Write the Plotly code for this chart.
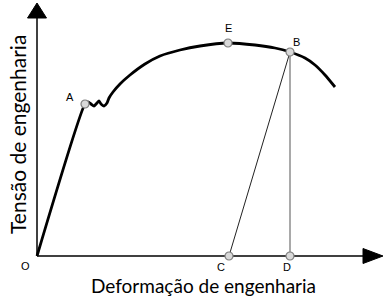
import plotly.graph_objects as go

# Curve (strain, stress) in arbitrary units
strain_curve = [0, 48, 51, 54, 57, 60, 62, 64, 67, 70, 72, 76, 83, 93, 108, 123, 143, 163, 191, 218, 238, 253, 268, 278, 288, 298]
stress_curve = [0, 152, 154, 152, 150, 153, 155, 152, 150, 153, 158, 164, 172, 181, 192, 200, 206, 210, 213, 211, 208, 204, 198, 191, 181, 169]

# Key points
pt_labels = ["A", "E", "B", "C", "D"]
pt_strain = [48, 191, 253, 192, 253]
pt_stress = [152, 213, 204, 0, 0]

# Axes extents
x_axis_end = 326
y_axis_end = 238
head_len_x, head_half_x = 20, 7.5
head_len_y, head_half_y = 15, 9.5

fig = go.Figure()

# axes lines
fig.add_trace(go.Scatter(x=[0, x_axis_end], y=[0, 0], mode="lines",
                         line=dict(color="black", width=1.5), hoverinfo="skip"))
fig.add_trace(go.Scatter(x=[0, 0], y=[0, y_axis_end], mode="lines",
                         line=dict(color="black", width=1.5), hoverinfo="skip"))
# arrow heads
fig.add_trace(go.Scatter(x=[x_axis_end, x_axis_end, x_axis_end + head_len_x, x_axis_end],
                         y=[head_half_x, -head_half_x, 0, head_half_x],
                         mode="lines", fill="toself", fillcolor="black",
                         line=dict(color="black", width=1), hoverinfo="skip"))
fig.add_trace(go.Scatter(x=[-head_half_y, head_half_y, 0, -head_half_y],
                         y=[y_axis_end, y_axis_end, y_axis_end + head_len_y, y_axis_end],
                         mode="lines", fill="toself", fillcolor="black",
                         line=dict(color="black", width=1), hoverinfo="skip"))

iB = pt_labels.index("B"); iC = pt_labels.index("C"); iD = pt_labels.index("D")
# unloading line B-C
fig.add_trace(go.Scatter(x=[pt_strain[iB], pt_strain[iC]], y=[pt_stress[iB], pt_stress[iC]],
                         mode="lines", line=dict(color="#222222", width=1), hoverinfo="skip"))
# vertical B-D
fig.add_trace(go.Scatter(x=[pt_strain[iB], pt_strain[iD]], y=[pt_stress[iB], pt_stress[iD]],
                         mode="lines", line=dict(color="#8c8c8c", width=1.5), hoverinfo="skip"))

# main curve
fig.add_trace(go.Scatter(x=strain_curve, y=stress_curve, mode="lines",
                         line=dict(color="black", width=2.8, shape="spline", smoothing=0.6),
                         hoverinfo="skip"))

# points
fig.add_trace(go.Scatter(x=pt_strain, y=pt_stress, mode="markers",
                         marker=dict(size=8, color="#d9d9d9", line=dict(color="#7f7f7f", width=1.2)),
                         hoverinfo="skip"))

lab_font = dict(family="Liberation Sans, Arial", size=11, color="black")
offsets = {"A": (-15, 7), "E": (0, 15), "B": (6, 10), "C": (-8, -10.5), "D": (-3, -10.5)}
for lab, xv, yv in zip(pt_labels, pt_strain, pt_stress):
    dx, dy = offsets[lab]
    fig.add_annotation(x=xv + dx, y=yv + dy, text=lab, showarrow=False, font=lab_font,
                       borderpad=0)
fig.add_annotation(x=-12, y=-10, text="O", showarrow=False, font=lab_font, borderpad=0)

fig.add_annotation(x=166, y=-29, text="Deformação de engenharia", showarrow=False,
                   borderpad=0,
                   font=dict(family="Lato, Open Sans", size=19, color="black"))
fig.add_annotation(x=-20, y=121, text="Tensão de engenharia", showarrow=False,
                   textangle=-90, font=dict(family="Lato, Open Sans", size=21, color="black"))

fig.update_layout(width=387, height=297, margin=dict(l=0, r=0, t=0, b=0),
                  paper_bgcolor="white", plot_bgcolor="white", showlegend=False,
                  xaxis=dict(range=[-37, 350], visible=False, fixedrange=True),
                  yaxis=dict(range=[-41, 256], visible=False, fixedrange=True))

fig.write_html("out.html")
